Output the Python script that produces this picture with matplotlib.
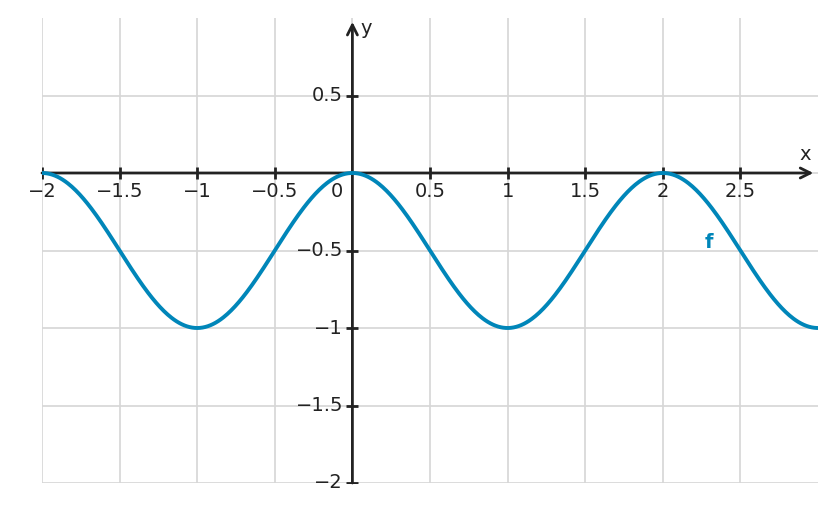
import numpy as np
import matplotlib.pyplot as plt

# f(x) = -sin^2(pi x / 2), the plotted function
x_min, x_max = -2.0, 3.0
y_min, y_max = -2.0, 1.0
x_ticks = [-2, -1.5, -1, -0.5, 0.5, 1, 1.5, 2, 2.5]
x_labels = ["\u22122", "\u22121.5", "\u22121", "\u22120.5", "0.5", "1", "1.5", "2", "2.5"]
y_ticks = [0.5, -0.5, -1, -1.5, -2]
y_labels = ["0.5", "\u22120.5", "\u22121", "\u22121.5", "\u22122"]

xs = np.linspace(x_min, x_max, 600)
ys = -np.sin(np.pi * xs / 2) ** 2

fig = plt.figure(figsize=(8.37, 5.12), dpi=100)
ax = fig.add_axes([42 / 837, 29 / 512, 776 / 837, 465 / 512])
ax.set_xlim(x_min, x_max)
ax.set_ylim(y_min, y_max)

# grille (pas de ligne en haut ni à droite)
ax.set_xticks(np.arange(-2, 2.6, 0.5))
ax.set_yticks(np.arange(-2, 0.6, 0.5))
ax.grid(color="#d6d6d6", linewidth=1.2)
ax.tick_params(length=0, labelbottom=False, labelleft=False)
for s in ax.spines.values():
    s.set_visible(False)

axis_col = "#222222"
fs = 14
# axes avec flèches
ax.annotate("", xy=(2.97, 0), xytext=(x_min, 0),
            arrowprops=dict(arrowstyle="->", color=axis_col, lw=2, mutation_scale=18,
                            shrinkA=0, shrinkB=0))
ax.annotate("", xy=(0, 0.975), xytext=(0, y_min),
            arrowprops=dict(arrowstyle="->", color=axis_col, lw=2, mutation_scale=18,
                            shrinkA=0, shrinkB=0))
ax.text(2.92, 0.06, "x", fontsize=fs, color=axis_col, ha="center", va="bottom")
ax.text(0.05, 0.93, "y", fontsize=fs, color=axis_col, ha="left", va="center")

# graduations
ax.plot(x_ticks, [0] * len(x_ticks), linestyle="none", marker="|", markersize=8,
        markeredgewidth=2, color=axis_col)
ax.plot([0] * len(y_ticks), y_ticks, linestyle="none", marker="_", markersize=8,
        markeredgewidth=2, color=axis_col)
for t, lab in zip(x_ticks, x_labels):
    ax.text(t, -0.06, lab, fontsize=fs, color=axis_col, ha="center", va="top")
for t, lab in zip(y_ticks, y_labels):
    ax.text(-0.06, t, lab, fontsize=fs, color=axis_col, ha="right", va="center")
ax.text(-0.1, -0.06, "0", fontsize=fs, color=axis_col, ha="center", va="top")

ax.plot(xs, ys, color="#0086b9", linewidth=2.8, zorder=3)
ax.text(2.3, -0.45, "f", fontsize=fs, fontweight="bold", color="#0086b9",
        ha="center", va="center")

fig.savefig("out.png", dpi=100)
